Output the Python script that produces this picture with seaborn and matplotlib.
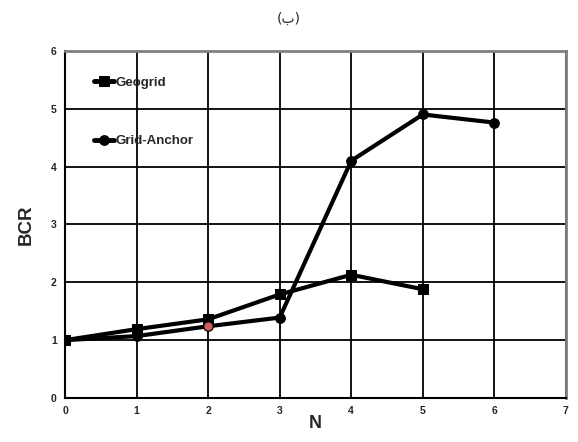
import pandas as pd
import seaborn as sns
import matplotlib.pyplot as plt

# Data
n_geogrid = [0, 1, 2, 3, 4, 5]
bcr_geogrid = [1.00, 1.19, 1.36, 1.79, 2.13, 1.88]
n_anchor = [0, 1, 2, 3, 4, 5, 6]
bcr_anchor = [1.00, 1.07, 1.24, 1.39, 4.10, 4.90, 4.76]

df = pd.concat([
    pd.DataFrame({'N': n_geogrid, 'BCR': bcr_geogrid, 'type': 'Geogrid'}),
    pd.DataFrame({'N': n_anchor, 'BCR': bcr_anchor, 'type': 'Grid-Anchor'}),
])

sns.set_style('white')
plt.rcParams['font.family'] = ['Liberation Sans', 'DejaVu Sans']

fig = plt.figure(figsize=(5.78, 4.42), dpi=100)
ax = fig.add_axes([0.1125, 0.0995, 0.8665, 0.7855])

sns.lineplot(data=df, x='N', y='BCR', hue='type', style='type',
             markers={'Geogrid': 's', 'Grid-Anchor': 'o'}, dashes=False,
             palette={'Geogrid': 'black', 'Grid-Anchor': 'black'},
             linewidth=3, markersize=7, markeredgecolor='black', ax=ax)

# one odd coloured marker in the original
ax.plot(n_anchor[2], bcr_anchor[2], 'o', color='indianred', markersize=5, zorder=5)

ax.set_xlim(0, 7)
ax.set_ylim(0, 6)
ax.set_xticks(range(8))
ax.set_yticks(range(7))
ax.grid(True, color='black', linewidth=1.3)
ax.tick_params(length=0, labelsize=7.5, pad=6)
for lbl in ax.get_xticklabels() + ax.get_yticklabels():
    lbl.set_fontweight('bold')
ax.set_xlabel('N', fontsize=13, fontweight='bold', labelpad=-1)
ax.set_ylabel('BCR', fontsize=13.5, fontweight='bold', labelpad=12)

for spine in ['left', 'bottom']:
    ax.spines[spine].set_color('black')
    ax.spines[spine].set_linewidth(1.5)
for spine in ['top', 'right']:
    ax.spines[spine].set_color('gray')
    ax.spines[spine].set_linewidth(2)

leg = ax.legend(loc='upper left', bbox_to_anchor=(0.035, 0.96), frameon=False,
                labelspacing=3.5, handlelength=1.5, handletextpad=0.1,
                prop={'weight': 'bold', 'size': 9.5})
for h in leg.get_lines():
    h.set_linewidth(3.5)

fig.text(0.5, 0.958, '(ب)', ha='center', va='center', fontsize=10,
         family=['DejaVu Sans'])

fig.savefig('out.png', dpi=100)
